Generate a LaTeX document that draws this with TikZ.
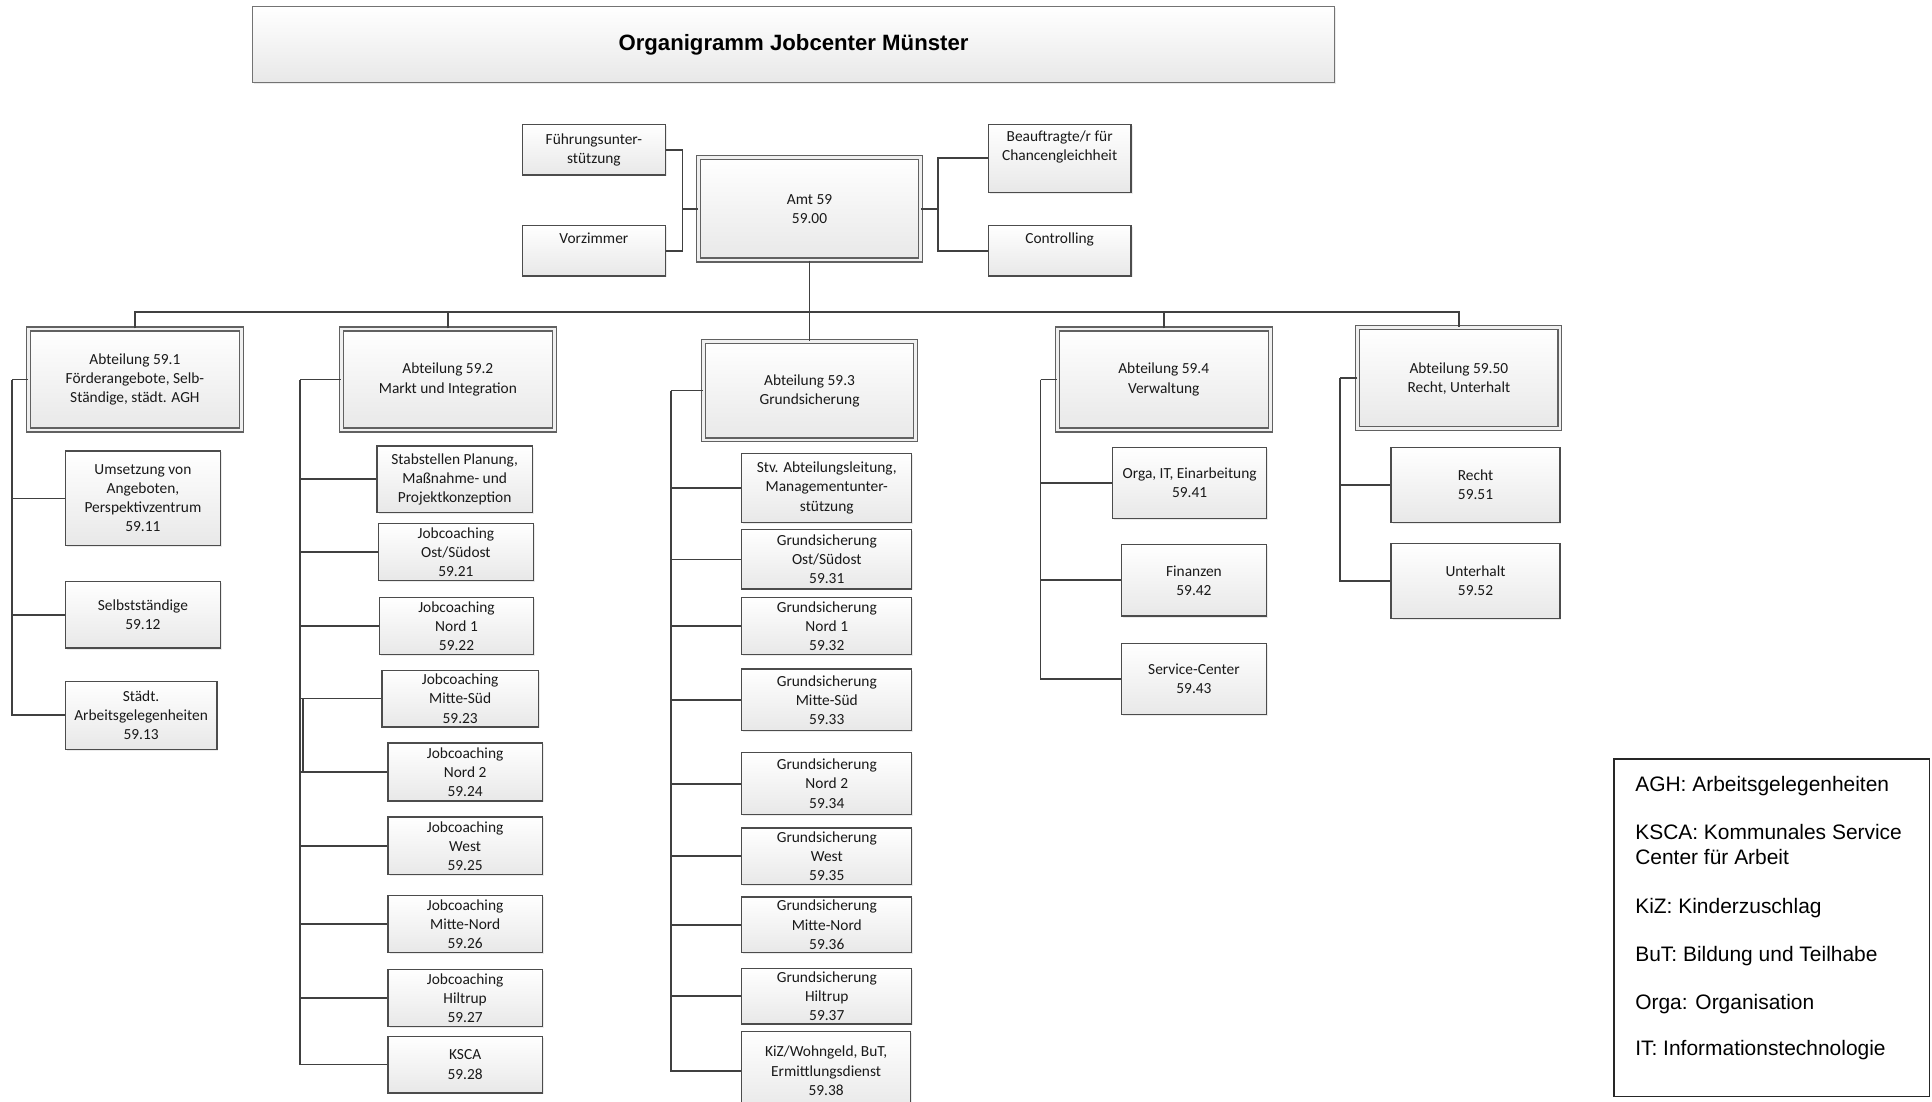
\documentclass[tikz,border=0pt]{standalone}
\usepackage{fontspec}
\setmainfont{Carlito}
\newfontfamily\arialfont{Liberation Sans}
\usetikzlibrary{shadows,calc}
\tikzset{
  box/.style={draw=black!70, line width=1.05pt, top color=white, bottom color=black!9,
    drop shadow={shadow xshift=1.2pt, shadow yshift=-1.2pt, fill=black!15},
    inner sep=1pt, align=center, text=black!90, font=\fontsize{12.5}{15.5}\selectfont},
  dept/.style={box, double=white!94!black, double distance=2.2pt, line width=0.95pt, draw=black!62},
  titlebox/.style={box, draw=black!55, line width=1pt, text=black,
    font=\arialfont\bfseries\fontsize{18}{22}\selectfont},
  legbox/.style={draw=black!85, line width=1.1pt, fill=white},
  conn/.style={draw=black!75, line width=1.4pt},
  legend/.style={font=\arialfont\fontsize{17}{20}\selectfont, anchor=base west, inner sep=0pt, text=black},
}
\newcommand{\bx}[7][box]{%
  \pgfmathsetmacro{\bxcx}{(#3+#5)/2}%
  \pgfmathsetmacro{\bxcy}{(#4+#6)/2}%
  \pgfmathsetmacro{\bxw}{#5-#3}%
  \pgfmathsetmacro{\bxh}{#6-#4}%
  \node[#1, minimum width=\bxw pt, minimum height=\bxh pt] (#2) at (\bxcx,\bxcy) {#7};}
\begin{document}
\begin{tikzpicture}[x=1pt,y=-1pt]
\useasboundingbox (0,0) rectangle (1568,894);
\fill[white] (0,0) rectangle (1568,894);

% title
\bx[titlebox]{title}{205}{5}{1083}{67}{Organigramm Jobcenter Münster}

% top level
\bx{fu}{424}{101}{540}{142}{Führungsunter-\\stützung}
\bx{vz}{424}{183}{540}{224}{Vorzimmer\\\strut}
\bx[dept]{amt}{567}{128}{747}{211}{Amt 59\\59.00}
\bx{bc}{802}{101}{918}{156}{Beauftragte/r für\\Chancengleichheit\\\strut}
\bx{ct}{802}{183}{918}{224}{Controlling\\\strut}

% departments
\bx[dept]{a1}{23}{267}{196}{349}{Abteilung 59.1\\Förderangebote, Selb-\\Ständige, städt. AGH}
\bx[dept]{a2}{277}{267}{450}{349}{Abteilung 59.2\\Markt und Integration}
\bx[dept]{a3}{571}{277}{743}{357}{Abteilung 59.3\\Grundsicherung}
\bx[dept]{a4}{858}{267}{1031}{349}{Abteilung 59.4\\Verwaltung}
\bx[dept]{a5}{1102}{266}{1266}{348}{Abteilung 59.50\\Recht, Unterhalt}

% 59.1
\bx{a11}{53}{366}{179}{443}{Umsetzung von\\Angeboten,\\Perspektivzentrum\\59.11}
\bx{a12}{53}{472}{179}{526}{Selbstständige\\59.12}
\bx{a13}{53}{553}{176}{608}{Städt.\\Arbeitsgelegenheiten\\59.13}

% 59.2
\bx{a2s}{306}{362}{432}{416}{Stabstellen Planung,\\Maßnahme- und\\Projektkonzeption}
\bx{a21}{307}{425}{433}{471}{Jobcoaching\\Ost/Südost\\59.21}
\bx{a22}{308}{485}{433}{531}{Jobcoaching\\Nord 1\\59.22}
\bx{a23}{310}{544}{437}{590}{Jobcoaching\\Mitte-Süd\\59.23}
\bx{a24}{315}{603}{440}{650}{Jobcoaching\\Nord 2\\59.24}
\bx{a25}{315}{663}{440}{710}{Jobcoaching\\West\\59.25}
\bx{a26}{315}{727}{440}{773}{Jobcoaching\\Mitte-Nord\\59.26}
\bx{a27}{315}{787}{440}{833}{Jobcoaching\\Hiltrup\\59.27}
\bx{a28}{315}{841}{440}{887}{KSCA\\59.28}

% 59.3
\bx{a3s}{602}{368}{740}{424}{Stv. Abteilungsleitung,\\Managementunter-\\stützung}
\bx{a31}{602}{430}{740}{478}{Grundsicherung\\Ost/Südost\\59.31}
\bx{a32}{602}{485}{740}{531}{Grundsicherung\\Nord 1\\59.32}
\bx{a33}{602}{543}{740}{593}{Grundsicherung\\Mitte-Süd\\59.33}
\bx{a34}{602}{611}{740}{661}{Grundsicherung\\Nord 2\\59.34}
\bx{a35}{602}{672}{740}{718}{Grundsicherung\\West\\59.35}
\bx{a36}{602}{728}{740}{773}{Grundsicherung\\Mitte-Nord\\59.36}
\bx{a37}{602}{786}{740}{831}{Grundsicherung\\Hiltrup\\59.37}
\bx{a38}{602}{837}{739}{901}{KiZ/Wohngeld, BuT,\\Ermittlungsdienst\\59.38}

% 59.4
\bx{a41}{903}{363}{1028}{421}{Orga, IT, Einarbeitung\\59.41}
\bx{a42}{910}{442}{1028}{500}{Finanzen\\59.42}
\bx{a43}{910}{522}{1028}{580}{Service-Center\\59.43}

% 59.50
\bx{a51}{1129}{363}{1266}{424}{Recht\\59.51}
\bx{a52}{1129}{441}{1266}{502}{Unterhalt\\59.52}

% connectors top
\coordinate (bus) at (657,253);
\draw[conn] (amt.south) -- (a3.north);
\draw[conn] (a1.north) |- (bus) -| (a5.north);
\draw[conn] (a2.north) -- (a2.north |- bus);
\draw[conn] (a4.north) -- (a4.north |- bus);

\coordinate (ls) at (554,169.5);
\draw[conn] (fu.east) -| (ls) |- (vz.east);
\draw[conn] (ls) -- (amt.west);
\coordinate (rs) at (761,169.5);
\draw[conn] (bc.west) -| (rs) |- (ct.west);
\draw[conn] (rs) -- (amt.east);

% spines
\path (a1.west) -- ++(-13,0) coordinate (s1);
\path (a2.west) -- ++(-33,0) coordinate (s2);
\path (a3.west) -- ++(-26,0) coordinate (s3);
\path (a4.west) -- ++(-13,0) coordinate (s4);
\path (a5.west) -- ++(-14,0) coordinate (s5);
\draw[conn] (a1.west) -- (s1);
\draw[conn] (a2.west) -- (s2);
\draw[conn] (a3.west) -- (s3);
\draw[conn] (a4.west) -- (s4);
\draw[conn] (a5.west) -- (s5);
\foreach \c in {a11,a12,a13} \draw[conn] (s1) |- (\c.west);
\foreach \c in {a2s,a21,a22,a23,a24,a25,a26,a27,a28} \draw[conn] (s2) |- (\c.west);
\foreach \c in {a3s,a31,a32,a33,a34,a35,a36,a37,a38} \draw[conn] (s3) |- (\c.west);
\foreach \c in {a41,a42,a43} \draw[conn] (s4) |- (\c.west);
\foreach \c in {a51,a52} \draw[conn] (s5) |- (\c.west);
\draw[conn] ($(s2 |- a23.west)+(2.2,0)$) -- ($(s2 |- a24.west)+(2.2,0)$);

% legend
\bx[legbox]{leg}{1310}{616}{1566}{890}{}
\node[legend] (l1) at (1327,642) {AGH: Arbeitsgelegenheiten};
\node[legend] (l2a) at (1327,681) {KSCA: Kommunales Service};
\node[legend] (l2b) at (1327,702) {Center für Arbeit};
\node[legend] (l3) at (1327,741) {KiZ: Kinderzuschlag};
\node[legend] (l4) at (1327,780) {BuT: Bildung und Teilhabe};
\node[legend] (l5) at (1327,819) {Orga: Organisation};
\node[legend] (l6) at (1327,857) {IT: Informationstechnologie};
\end{tikzpicture}
\end{document}
